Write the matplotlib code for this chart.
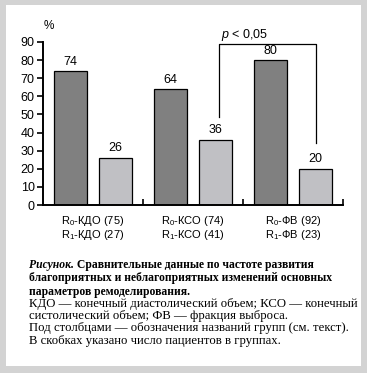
import matplotlib
matplotlib.use("Agg")
import matplotlib.pyplot as plt
from matplotlib.patches import Rectangle

# data
groups = ["R$_0$-КДО (75)\nR$_1$-КДО (27)",
          "R$_0$-КСО (74)\nR$_1$-КСО (41)",
          "R$_0$-ФВ (92)\nR$_1$-ФВ (23)"]
r0_vals = [74, 64, 80]
r1_vals = [26, 36, 20]
yticks = [0, 10, 20, 30, 40, 50, 60, 70, 80, 90]

caption_bold = ["благоприятных и неблагоприятных изменений основных",
                "параметров ремоделирования."]
caption_plain = ["КДО — конечный диастолический объем; КСО — конечный",
                 "систолический объем; ФВ — фракция выброса.",
                 "Под столбцами — обозначения названий групп (см. текст).",
                 "В скобках указано число пациентов в группах."]

plt.rcParams['font.family'] = ['Liberation Sans', 'DejaVu Sans']
plt.rcParams['mathtext.fontset'] = 'custom'
plt.rcParams['mathtext.rm'] = 'Liberation Sans'
plt.rcParams['mathtext.it'] = 'Liberation Sans:italic'

W, H = 367, 373
fig = plt.figure(figsize=(W / 100, H / 100), dpi=100)
fig.patch.set_facecolor('#d3d3d3')


def fy(py):
    # pixel row (from top) -> figure fraction
    return (H - py) / H


def fx(px):
    return px / W


# white panel inside the grey frame
fig.add_artist(Rectangle((fx(6), fy(366)), fx(361) - fx(6), fy(5) - fy(366),
                         transform=fig.transFigure, facecolor='white',
                         edgecolor='none', zorder=0))

ax = fig.add_axes([fx(43), fy(205), fx(343) - fx(43), fy(42) - fy(205)])
ax.patch.set_alpha(0)

centers = [0.5, 1.5, 2.5]
bw = 0.33
for i, c in enumerate(centers):
    ax.bar(c - 0.225, r0_vals[i], bw, color='#808080', edgecolor='black', linewidth=0.9)
    ax.bar(c + 0.225, r1_vals[i], bw, color='#c0c0c4', edgecolor='black', linewidth=0.9)
    ax.annotate(str(r0_vals[i]), (c - 0.225, r0_vals[i]), xytext=(0, 2.5),
                textcoords='offset points', ha='center', va='bottom', fontsize=9)
    ax.annotate(str(r1_vals[i]), (c + 0.225, r1_vals[i]), xytext=(0, 2.5),
                textcoords='offset points', ha='center', va='bottom', fontsize=9)

ax.set_xlim(0, 3)
ax.set_ylim(0, 90)
ax.spines['top'].set_visible(False)
ax.spines['right'].set_visible(False)
ax.spines['left'].set_linewidth(1.4)
ax.spines['bottom'].set_linewidth(1.4)

ax.set_yticks(yticks)
ax.tick_params(axis='y', direction='out', length=4.5, width=1.2, pad=1.5, labelsize=9)
ax.set_xticks([1, 2, 3])
ax.set_xticklabels([])
ax.tick_params(axis='x', which='major', direction='in', length=4, width=1.2)
ax.set_xticks(centers, minor=True)
ax.set_xticklabels(groups, minor=True, fontsize=8.0, linespacing=0.95)
ax.tick_params(axis='x', which='minor', length=0, pad=6.5)

# significance bracket
ax.plot([1.76, 1.76, 2.73, 2.73], [48.6, 88.9, 88.9, 34.2], color='black',
        linewidth=0.9, clip_on=False)
ax.text(1.78, 93.9, "$p$ < 0,05", ha='left', va='center', fontsize=9, clip_on=False)
ax.text(0.06, 98.8, "%", ha='center', va='center', fontsize=8.5, clip_on=False)

# caption
serif = ['Liberation Serif', 'DejaVu Serif']
bfs = 8.4
pfs = 9.2
t1 = fig.text(fx(29), fy(268), "Рисунок.", family=serif, fontsize=bfs,
              fontweight='bold', fontstyle='italic', va='baseline')
ax.annotate(" Сравнительные данные по частоте развития", xy=(1, 0), xycoords=t1,
            ha='left', va='bottom', family=serif, fontsize=bfs, fontweight='bold',
            annotation_clip=False)
for k, line in enumerate(caption_bold):
    fig.text(fx(29), fy(281.5 + 13.3 * k), line, family=serif, fontsize=bfs,
             fontweight='bold', va='baseline')
for k, line in enumerate(caption_plain):
    fig.text(fx(29), fy(306.5 + 12.4 * k), line, family=serif, fontsize=pfs,
             va='baseline')

fig.savefig("out.png", dpi=100, facecolor=fig.get_facecolor())
